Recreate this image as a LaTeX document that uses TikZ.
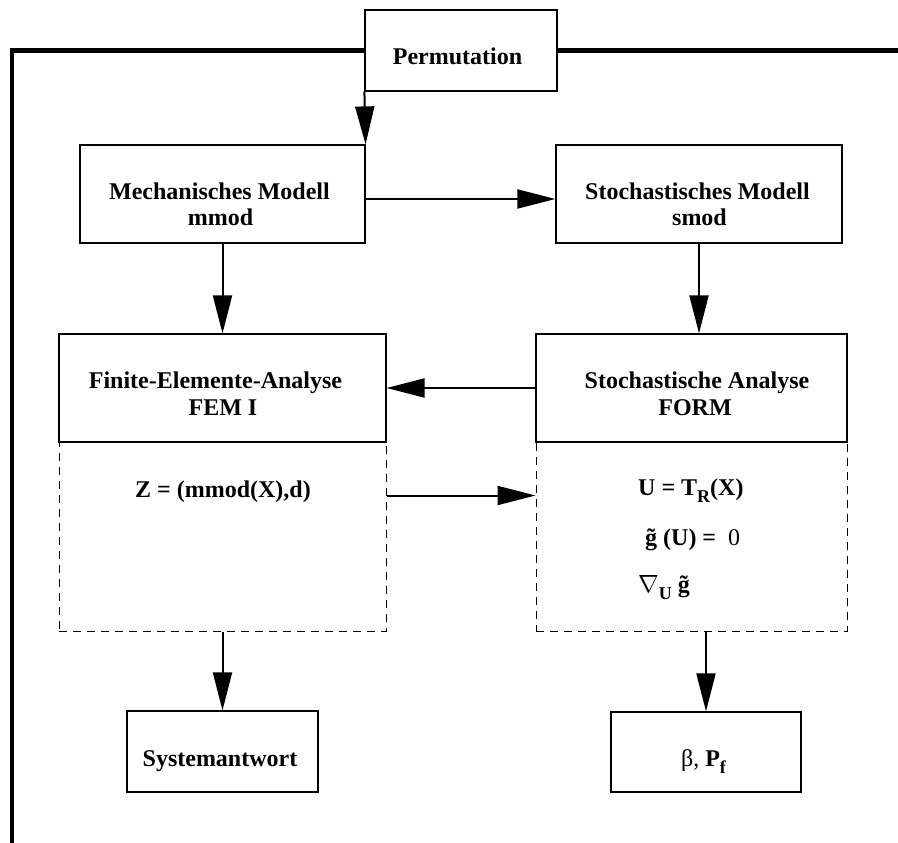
\documentclass[tikz,border=0pt]{standalone}
\usepackage{fontspec}
\setmainfont{Liberation Serif}
\usetikzlibrary{arrows.meta}
% lowered bold subscript
\newcommand\dnsub[1]{\raisebox{-7pt}{\fontsize{18}{18}\selectfont\bfseries #1}}
% bold g with tilde
\newcommand\gtil{{\bfseries\~{g}}}
\begin{document}
\begin{tikzpicture}[x=1pt,y=-1pt,
  box/.style={draw, line width=1.2pt, fill=white, inner sep=0pt},
  lowbox/.style={draw, line width=1pt, dash pattern=on 8pt off 6pt, inner sep=0pt},
  txt/.style={anchor=base, inner sep=0pt, font=\fontsize{24}{26}\selectfont\bfseries},
  ltxt/.style={txt, anchor=base west},
  arr/.style={line width=2pt, -{Triangle[length=38pt,width=19pt]}},
  frame/.style={line width=4.5pt}]
\useasboundingbox (0,0) rectangle (898,843);

% outer feedback frame
\coordinate (frameB) at (12,843);
\coordinate (frameC) at (12,50.5);
\coordinate (frameR) at (898,50.5);

% boxes
\node[box, minimum width=192pt, minimum height=81pt] (perm) at (461,50.5) {};
\node[box, minimum width=285pt, minimum height=98pt] (mech) at (222.5,194) {};
\node[box, minimum width=286pt, minimum height=98pt] (smod) at (699,194) {};
\node[lowbox, minimum width=327pt, minimum height=189pt] (femlow) at (222.5,536.5) {};
\node[box, minimum width=327pt, minimum height=108pt] (fem) at (222.5,388) {};
\node[lowbox, minimum width=311pt, minimum height=189pt] (formlow) at (691.5,536.5) {};
\node[box, minimum width=311pt, minimum height=108pt] (form) at (691.5,388) {};
\node[box, minimum width=191pt, minimum height=81pt] (sys) at (222.5,751.5) {};
\node[box, minimum width=190pt, minimum height=80pt] (beta) at (706,752) {};

\draw[frame] (frameB) -- (frameC) -- (perm.west);
\draw[frame] (perm.east) -- (frameR);

% texts
\node[txt] (permT) at (457.5,65) {Permutation};
\node[txt] (mechT1) at (219.5,199) {Mechanisches Modell};
\node[txt] (mechT2) at (220.5,225) {mmod};
\node[txt] (smodT1) at (697.5,199) {Stochastisches Modell};
\node[txt] (smodT2) at (699.5,225) {smod};
\node[txt] (femT1) at (215.5,388) {Finite-Elemente-Analyse};
\node[txt] (femT2) at (223,415) {FEM I};
\node[txt] (formT1) at (697,388) {Stochastische Analyse};
\node[txt] (formT2) at (695,415) {FORM};
\node[txt] (zT) at (223,497) {Z = (mmod(X),d)};
\node[ltxt] (uT) at (638,495) {U = T\dnsub{R}(X)};
\node[ltxt] (gT) at (645,545) {\gtil\ (U) = \mdseries\ 0};
\node[ltxt] (nT) at (638,592) {\mdseries$\nabla$\dnsub{U} \gtil};
\node[txt] (sysT) at (220,766) {Systemantwort};
\node[txt] (betaT) at (703.5,766) {\mdseries β, \bfseries P\dnsub{f}};

% connectors
\draw[arr] (perm.south west) -- (mech.north east);
\draw[arr] ([yshift=-5pt]mech.east) -- ([yshift=-5pt]smod.west);
\draw[arr] (mech.south) -- (fem.north);
\draw[arr] (smod.south) -- (smod.south |- form.north);
\draw[arr] (form.west) -- (fem.east);
\draw[arr] ([yshift=-54pt]femlow.north east) -- ([yshift=-54pt]formlow.north west);
\draw[arr] (femlow.south) -- (sys.north);
\draw[arr] (beta.north |- formlow.south) -- (beta.north);
\end{tikzpicture}
\end{document}
